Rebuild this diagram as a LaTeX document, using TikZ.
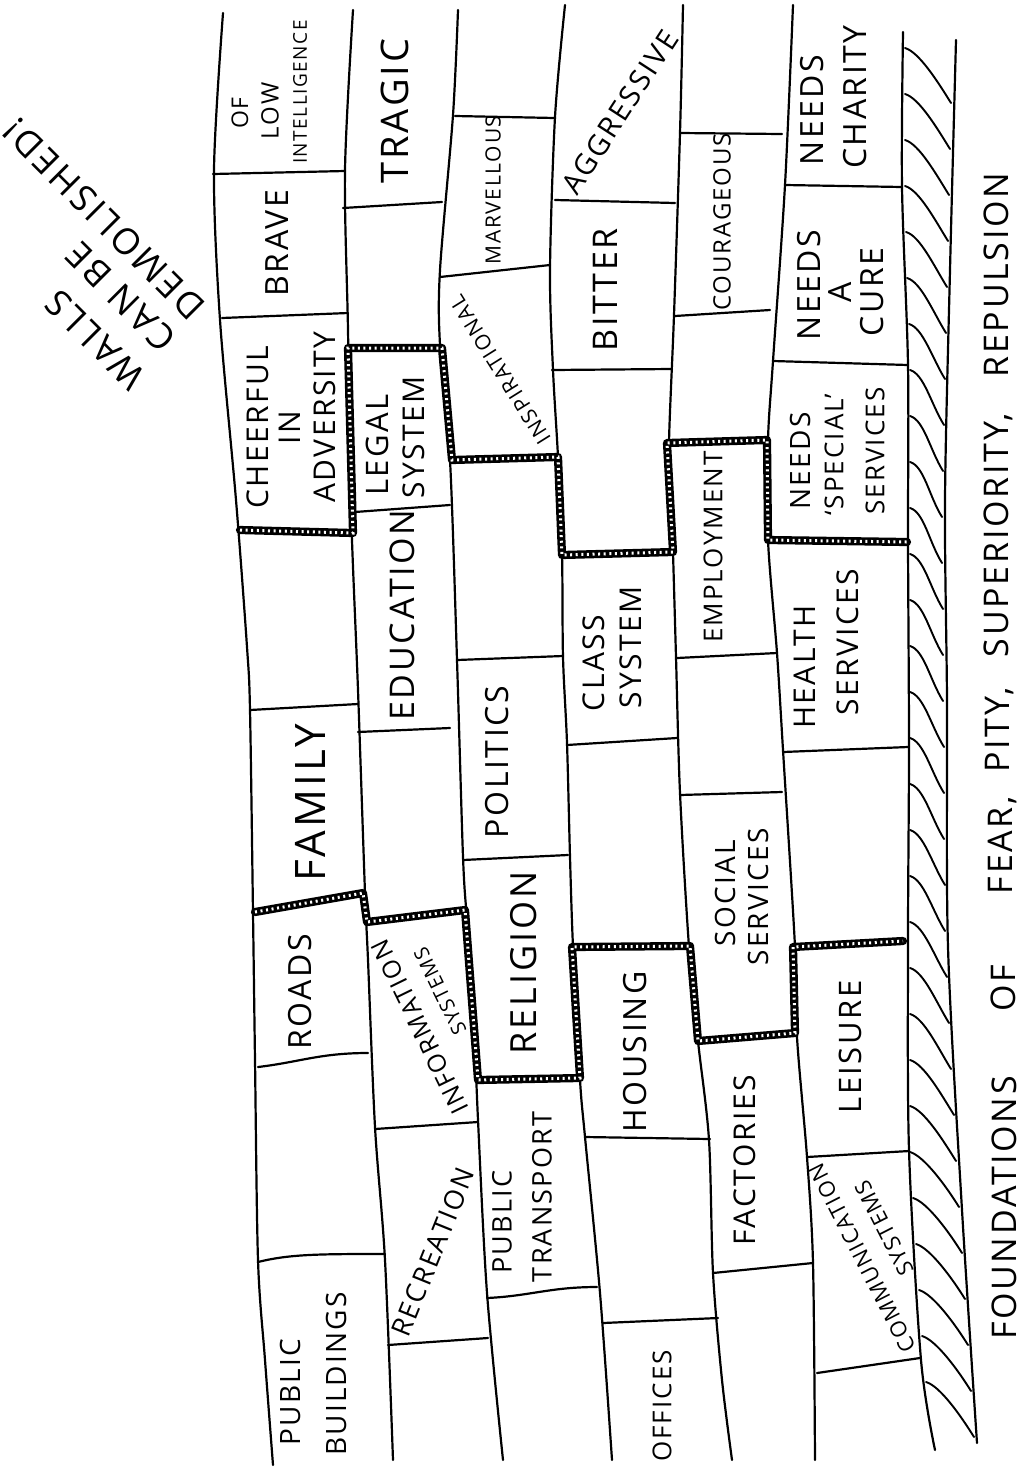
\documentclass[tikz,border=0pt]{standalone}
\usepackage{fontspec}
\setmainfont{Open Sans}[LetterSpace=8]
\begin{document}
\begin{tikzpicture}[x=0.5pt,y=-0.5pt,
  wl/.style={line width=1.1pt, line cap=round, line join=round},
  rope/.style={line width=4.1pt, line join=round, line cap=round},
  ropein/.style={white, line width=1.5pt, dash pattern=on 1.0pt off 1.8pt},
  f/.style={inner sep=0pt, font=\fontsize{#1}{#1}\selectfont},
  v/.style={f=#1, rotate=90}]
\useasboundingbox (0,0) rectangle (1024,1473);
\fill[white] (0,0) rectangle (1024,1473);

% ---- long wall lines ----
\draw[wl] plot[smooth,tension=0.5] coordinates {(223,13) (214,170) (220,320) (236,500) (247,647) (250,710) (253,913) (255,1060) (258,1260) (265,1360) (273,1465)};
\draw[wl] plot[smooth,tension=0.5] coordinates {(353,10) (345,170) (348,330) (351,510) (358,690) (365,893) (368,960) (375,1127) (385,1260) (393,1460)};
\draw[wl] plot[smooth,tension=0.5] coordinates {(458,10) (453,115) (440,270) (440,345) (450,460) (457,660) (463,857) (467,920) (473,1000) (478,1120) (487,1293) (503,1460)};
\draw[wl] plot[smooth,tension=0.5] coordinates {(565,5) (555,117) (550,270) (553,370) (558,457) (562,553) (563,657) (567,743) (570,857) (573,947) (580,1080) (585,1137) (600,1293) (612,1460)};
\draw[wl] plot[smooth,tension=0.5] coordinates {(683,5) (680,133) (674,315) (669,443) (671,500) (673,553) (676,657) (680,793) (689,947) (698,1041) (709,1140) (713,1273) (722,1380) (732,1460)};
\draw[wl] plot[smooth,tension=0.5] coordinates {(793,5) (785,185) (773,361) (768,440) (768,540) (777,653) (783,750) (795,947) (797,1037) (807,1157) (813,1263) (815,1460)};
\draw[wl] plot[smooth,tension=0.5] coordinates {(903,32) (902,187) (908,365) (908,540) (909,747) (908,940) (909,1150) (921,1360) (935,1450)};
\draw[wl] plot[smooth,tension=0.5] coordinates {(956,40) (950,270) (945,500) (947,700) (948,947) (962,1210) (977,1443)};

% ---- hatching of the foundation ----
\foreach \ys/\xl/\xr in {48/903/954, 94/903/953, 140/903/952, 186/903/951, 232/904/950, 278/905/949, 324/907/948, 370/908/947, 416/908/946, 462/908/945, 508/908/945, 554/908/946, 600/908/946, 646/908/946, 692/908/947, 738/908/947, 784/908/947, 830/908/948, 876/908/948, 922/908/950, 968/908/952, 1014/908/954, 1060/908/957, 1106/908/959, 1152/908/962, 1198/911/965, 1244/914/968, 1290/917/971, 1336/920/974, 1382/924/977}
  \draw[line width=0.95pt, line cap=round] (\xl+2,\ys) .. controls (\xl+16,\ys+4) and (\xr-16,\ys+34) .. (\xr-3,\ys+55);

% ---- brick joints ----
\draw[wl] (213,174) -- (345,171);
\draw[wl] (222,318) -- (348,313);
\draw[wl] (250,710) -- (358,704);
\draw[wl] (258,1067) .. controls (300,1062) and (320,1053) .. (368,1053);
\draw[wl] (258,1262) .. controls (290,1254) and (320,1254) .. (385,1254);
\draw[wl] (343,208) -- (442,202);
\draw[wl] (355,512) -- (450,505);
\draw[wl] (358,732) -- (450,728);
\draw[wl] (375,1129) -- (478,1122);
\draw[wl] (388,1345) -- (488,1338);
\draw[wl] (455,116) -- (555,118);
\draw[wl] (440,277) -- (550,265);
\draw[wl] (457,660) -- (563,656);
\draw[wl] (463,860) -- (568,855);
\draw[wl] (487,1298) .. controls (530,1296) and (550,1287) .. (597,1287);
\draw[wl] (555,200) -- (675,203);
\draw[wl] (552,370) -- (672,369);
\draw[wl] (567,745) -- (677,738);
\draw[wl] (585,1137) -- (710,1139);
\draw[wl] (603,1323) -- (718,1318);
\draw[wl] (680,133) -- (782,134);
\draw[wl] (675,316) -- (770,310);
\draw[wl] (677,658) -- (777,653);
\draw[wl] (680,795) -- (782,792);
\draw[wl] (713,1273) -- (813,1263);
\draw[wl] (785,185) -- (902,187);
\draw[wl] (773,361) -- (908,365);
\draw[wl] (783,752) -- (908,747);
\draw[wl] (807,1157) -- (909,1151);
\draw[wl] (817,1373) -- (920,1358);

% ---- thick stepped lines ----
\def\ropeA{(240,530) -- (353,533) -- (348,348) -- (442,348) -- (452,460) -- (558,457) -- (562,555) -- (673,552) -- (667,443) -- (767,440) -- (768,540) -- (907,542)}
\def\ropeB{(255,912) -- (363,893) -- (367,922) -- (465,910) -- (478,1080) -- (580,1078) -- (572,947) -- (690,946) -- (698,1041) -- (795,1033) -- (793,947) -- (903,941)}
\draw[rope] \ropeA;
\draw[ropein] \ropeA;
\draw[rope] \ropeB;
\draw[ropein] \ropeB;

% ---- brick texts ----
\node[v=11.5] (of) at (240,113) {OF};
\node[v=12] (low) at (270,111) {LOW};
\node[v=9.5] (intel) at (300,92) {INTELLIGENCE};
\node[v=16] (brave) at (277,243) {BRAVE};
\node[v=15] (cheer) at (258,427) {CHEERFUL};
\node[v=15] (in) at (290,428) {IN};
\node[v=15] (adv) at (325,417) {ADVERSITY};
\node[v=21] (family) at (310,803) {FAMILY};
\node[v=16] (roads) at (300,992) {ROADS};
\node[v=14] (pub1) at (290,1392) {PUBLIC};
\node[v=14] (build) at (336,1374) {BUILDINGS};

\node[v=19] (tragic) at (395,111) {TRAGIC};
\node[v=15.5] (legal) at (377,445) {LEGAL};
\node[v=15] (sys1) at (414,437) {SYSTEM};
\node[v=17] (edu) at (402,615) {EDUCATION};
\node[f=12.5, rotate=116] (info) at (420,1027) {INFORMATION};
\node[f=10, rotate=116] (sys2) at (440,991) {SYSTEMS};
\node[f=13.5, rotate=68] (recr) at (433,1252) {RECREATION};

\node[v=10.5] (marv) at (493,190) {MARVELLOUS};
\node[f=10.5, rotate=122] (insp) at (500,370) {INSPIRATIONAL};
\node[v=16] (polit) at (497,762) {POLITICS};
\node[v=18] (relig) at (524,963) {RELIGION};
\node[v=13.5] (pub2) at (502,1222) {PUBLIC};
\node[v=13.5] (trans) at (542,1197) {TRANSPORT};

\node[f=14.5, rotate=57] (aggr) at (620,112) {AGGRESSIVE};
\node[v=17] (bitter) at (605,290) {BITTER};
\node[v=15] (class) at (594,663) {CLASS};
\node[v=15] (sys3) at (631,647) {SYSTEM};
\node[v=16] (housing) at (635,1052) {HOUSING};
\node[v=13] (offices) at (662,1406) {OFFICES};

\node[v=12] (courag) at (722,222) {COURAGEOUS};
\node[v=13] (employ) at (713,547) {EMPLOYMENT};
\node[v=14] (social) at (725,893) {SOCIAL};
\node[v=14] (serv1) at (758,897) {SERVICES};
\node[v=15] (fact) at (745,1160) {FACTORIES};

\node[v=16] (needs1) at (812,110) {NEEDS};
\node[v=16] (charity) at (855,97) {CHARITY};
\node[v=16] (needs2) at (809,285) {NEEDS};
\node[v=16] (a) at (840,292) {A};
\node[v=16] (cure) at (872,292) {CURE};
\node[v=14] (needs3) at (800,461) {NEEDS};
\node[v=13] (special) at (834,455) {`SPECIAL'};
\node[v=13] (serv2) at (875,451) {SERVICES};
\node[v=15] (health) at (805,667) {HEALTH};
\node[v=15] (serv3) at (848,642) {SERVICES};
\node[v=15.5] (leisure) at (850,1047) {LEISURE};
\node[f=11, rotate=117] (comm) at (862,1258) {COMMUNICATION};
\node[f=11, rotate=117] (sys4) at (884,1228) {SYSTEMS};

% ---- foundation text ----
\node[v=17] (found) at (1004,1208) {FOUNDATIONS};
\node[v=17] (ofw) at (1003,988) {OF};
\node[v=17] (fear) at (1002,845) {FEAR,};
\node[v=17] (pity) at (1000,730) {PITY,};
\node[v=17] (super) at (998,535) {SUPERIORITY,};
\node[v=17] (repul) at (996,275) {REPULSION};

% ---- heading ----
\node[f=18, rotate=135] (walls) at (95,340) {WALLS};
\node[f=18, rotate=135] (canbe) at (121,297) {CAN BE};
\node[f=18, rotate=135] (demol) at (104,219) {DEMOLISHED!};
\end{tikzpicture}
\end{document}
